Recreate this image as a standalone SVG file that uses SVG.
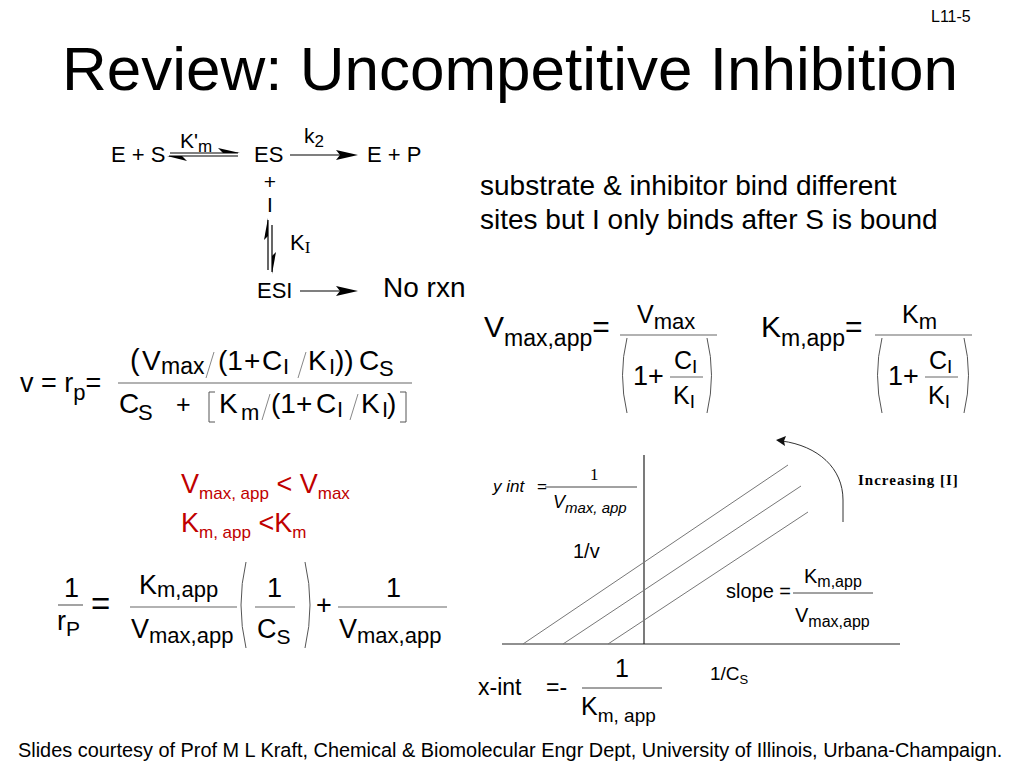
<svg xmlns="http://www.w3.org/2000/svg" width="1024" height="768" viewBox="0 0 1024 768">
<style>
text{font-family:"Liberation Sans",Arial,sans-serif;fill:#000}
.serif{font-family:"Liberation Serif","Times New Roman",serif}
.red{fill:#c00000}
.ln{stroke:#000;stroke-width:1.2;fill:none}
.thin{stroke:#555;stroke-width:1;fill:none}
.gray{stroke:#777;stroke-width:1;fill:none}
.head{fill:#000;stroke:none}
</style>
<rect width="1024" height="768" fill="#fff"/>

<g id="page-number"><text x="931" y="22" font-size="16">L11-5</text></g>
<g id="title"><text x="62" y="90" font-size="62">Review: Uncompetitive Inhibition</text></g>

<g id="reaction-scheme">
  <text x="111" y="162" font-size="22">E + S</text>
  <text x="180" y="148" font-size="21">K'<tspan font-size="17" dy="4">m</tspan></text>
  <text x="254" y="162" font-size="22">ES</text>
  <text x="304" y="143" font-size="21">k<tspan font-size="17" dy="4">2</tspan></text>
  <text x="367" y="162" font-size="22">E + P</text>
  <text x="270" y="189" font-size="21" text-anchor="middle">+</text>
  <text x="270" y="212" font-size="21" text-anchor="middle">I</text>
  <text x="290" y="250" font-size="22">K<tspan class="serif" font-size="17" dy="3">I</tspan></text>
  <text x="257" y="298" font-size="22">ESI</text>
  <text x="383" y="297" font-size="28">No rxn</text>
</g>

<g id="connectors">
  <line class="ln" x1="170" y1="153" x2="238" y2="153"/>
  <polygon class="head" points="240,153 218,148 223,153"/>
  <line class="ln" x1="169" y1="156" x2="238" y2="156"/>
  <polygon class="head" points="167,156 187,161 182,156"/>
  <line class="ln" x1="290" y1="155" x2="352" y2="155"/>
  <polygon class="head" points="358,155 336,150 340,155 336,160"/>
  <line class="ln" x1="268" y1="220" x2="268" y2="270"/>
  <polygon class="head" points="268,218 264,240 268,236"/>
  <line class="ln" x1="272" y1="225" x2="272" y2="272"/>
  <polygon class="head" points="272,274 276,252 272,256"/>
  <line class="ln" x1="300" y1="291" x2="352" y2="291"/>
  <polygon class="head" points="358,291 336,286 340,291 336,296"/>
</g>

<g id="description">
  <text x="480" y="195" font-size="28">substrate &amp; inhibitor bind different</text>
  <text x="480" y="229" font-size="28">sites but I only binds after S is bound</text>
</g>

<g id="rate-equation">
  <text x="20" y="392" font-size="27">v = r<tspan font-size="22" dy="8">p</tspan><tspan dy="-8">=</tspan></text>
  <line x1="118" y1="383" x2="412" y2="383" stroke="#666" stroke-width="1.2"/>
  <text x="130" y="370" font-size="29">(</text>
  <text x="142" y="370" font-size="28">V</text>
  <text x="161" y="374" font-size="23">max</text>
  <line x1="214" y1="352" x2="206" y2="378" stroke="#888" stroke-width="1"/>
  <text x="218" y="370" font-size="28">(1</text>
  <text x="244" y="370" font-size="28">+</text>
  <text x="262" y="370" font-size="28">C</text>
  <text x="283" y="374" font-size="22">I</text>
  <line x1="306" y1="352" x2="298" y2="378" stroke="#888" stroke-width="1"/>
  <text x="308" y="370" font-size="28">K</text>
  <text x="329" y="374" font-size="22">I</text>
  <text x="335" y="370" font-size="28">))</text>
  <text x="359" y="370" font-size="28">C</text>
  <text x="379" y="376" font-size="22">S</text>

  <text x="119" y="413" font-size="28">C</text>
  <text x="138" y="420" font-size="22">S</text>
  <text x="176" y="413" font-size="25">+</text>
  <path class="thin" d="M215,392 H209 V422 H215"/>
  <text x="219" y="413" font-size="28">K</text>
  <text x="241" y="420" font-size="22">m</text>
  <line x1="270" y1="394" x2="262" y2="420" stroke="#888" stroke-width="1"/>
  <text x="271" y="413" font-size="28">(1</text>
  <text x="296" y="413" font-size="28">+</text>
  <text x="316" y="413" font-size="28">C</text>
  <text x="337" y="417" font-size="22">I</text>
  <line x1="358" y1="394" x2="350" y2="420" stroke="#888" stroke-width="1"/>
  <text x="361" y="413" font-size="28">K</text>
  <text x="382" y="417" font-size="22">I</text>
  <text x="387" y="413" font-size="28">)</text>
  <path class="thin" d="M400,392 H406 V422 H400"/>
</g>

<g id="vmax-app-equation">
  <text x="484" y="337" font-size="30">V<tspan font-size="23" dy="9">max,app</tspan><tspan font-size="30" dy="-9">=</tspan></text>
  <line x1="620" y1="335" x2="717" y2="335" stroke="#666" stroke-width="1.2"/>
  <text x="637" y="323" font-size="25">V<tspan font-size="22" dy="6">max</tspan></text>
  <path class="thin" d="M627,338 Q618,375 627,413"/>
  <path class="thin" d="M707,338 Q716,375 707,413"/>
  <text x="633" y="385" font-size="27">1+</text>
  <text x="674" y="369" font-size="25">C<tspan font-size="19" dy="4">I</tspan></text>
  <line x1="670" y1="377" x2="703" y2="377" stroke="#666" stroke-width="1"/>
  <text x="673" y="404" font-size="25">K<tspan font-size="19" dy="4">I</tspan></text>
</g>

<g id="km-app-equation">
  <text x="761" y="337" font-size="30">K<tspan font-size="23" dy="9">m,app</tspan><tspan font-size="30" dy="-9">=</tspan></text>
  <line x1="875" y1="335" x2="972" y2="335" stroke="#666" stroke-width="1.2"/>
  <text x="902" y="323" font-size="25">K<tspan font-size="22" dy="6">m</tspan></text>
  <path class="thin" d="M882,338 Q873,375 882,413"/>
  <path class="thin" d="M964,338 Q973,375 964,413"/>
  <text x="888" y="385" font-size="27">1+</text>
  <text x="929" y="369" font-size="25">C<tspan font-size="19" dy="4">I</tspan></text>
  <line x1="925" y1="377" x2="958" y2="377" stroke="#666" stroke-width="1"/>
  <text x="928" y="404" font-size="25">K<tspan font-size="19" dy="4">I</tspan></text>
</g>

<g id="comparison">
  <text class="red" x="181" y="493" font-size="27">V<tspan font-size="17" dy="6">max, app</tspan><tspan font-size="27" dy="-6"> &lt; V</tspan><tspan font-size="17" dy="6">max</tspan></text>
  <text class="red" x="181" y="532" font-size="27">K<tspan font-size="17" dy="6">m, app</tspan><tspan font-size="27" dy="-6"> &lt;K</tspan><tspan font-size="17" dy="6">m</tspan></text>
</g>

<g id="lineweaver-burk">
  <text x="64" y="597" font-size="27">1</text>
  <line x1="58" y1="605" x2="83" y2="605" stroke="#666" stroke-width="1.2"/>
  <text x="57" y="630" font-size="27">r<tspan font-size="21" dy="6">P</tspan></text>
  <text x="91" y="615" font-size="33">=</text>
  <text x="139" y="594" font-size="27">K<tspan font-size="22" dy="3">m,app</tspan></text>
  <line x1="130" y1="607" x2="237" y2="607" stroke="#666" stroke-width="1.2"/>
  <text x="131" y="638" font-size="27">V<tspan font-size="22" dy="5">max,app</tspan></text>
  <path class="thin" d="M246,562 Q236,605 246,648"/>
  <path class="thin" d="M305,562 Q315,605 305,648"/>
  <text x="267" y="597" font-size="27">1</text>
  <line x1="255" y1="607" x2="295" y2="607" stroke="#666" stroke-width="1.2"/>
  <text x="257" y="638" font-size="27">C<tspan font-size="21" dy="6">S</tspan></text>
  <text x="316" y="614" font-size="27">+</text>
  <text x="386" y="597" font-size="27">1</text>
  <line x1="338" y1="607" x2="447" y2="607" stroke="#666" stroke-width="1.2"/>
  <text x="339" y="638" font-size="27">V<tspan font-size="22" dy="5">max,app</tspan></text>
</g>

<g id="plot">
  <line x1="502" y1="644" x2="900" y2="644" stroke="#222" stroke-width="1.2"/>
  <line x1="644" y1="455" x2="644" y2="644" stroke="#222" stroke-width="1.2"/>
  <line class="gray" x1="523" y1="644" x2="788" y2="465"/>
  <line class="gray" x1="563" y1="644" x2="801" y2="486"/>
  <line class="gray" x1="608" y1="644" x2="808" y2="512"/>
  <path d="M843,522 V500 C843,468 818,446 782,441" stroke="#333" stroke-width="1" fill="none"/>
  <polygon points="776,440 786,436 784,441 785,446" fill="#111"/>
  <text class="serif" x="858" y="485" font-size="15" font-weight="bold" letter-spacing="1" fill="#222">Increasing [I]</text>
  <text x="493" y="492" font-size="17" font-style="italic">y int</text>
  <text x="537" y="492" font-size="17">=</text>
  <text class="serif" x="590" y="480" font-size="17">1</text>
  <line x1="545" y1="487" x2="637" y2="487" stroke="#444" stroke-width="1"/>
  <text x="553" y="508" font-size="18" font-style="italic">V<tspan font-size="15" dy="5">max, app</tspan></text>
  <text x="573" y="558" font-size="20">1/v</text>
  <text x="726" y="598" font-size="20">slope =</text>
  <line x1="793" y1="593" x2="873" y2="593" stroke="#444" stroke-width="1"/>
  <text x="804" y="583" font-size="20">K<tspan font-size="16" dy="4">m,app</tspan></text>
  <text x="795" y="622" font-size="20">V<tspan font-size="16" dy="5">max,app</tspan></text>
</g>

<g id="x-intercept">
  <text x="478" y="695" font-size="23">x-int</text>
  <text x="546" y="695" font-size="23">=-</text>
  <text x="615" y="677" font-size="25">1</text>
  <line x1="582" y1="688" x2="662" y2="688" stroke="#444" stroke-width="1"/>
  <text x="581" y="715" font-size="25">K<tspan font-size="19" dy="7">m, app</tspan></text>
  <text x="710" y="680" font-size="19">1/C<tspan font-size="13" dy="4">S</tspan></text>
</g>

<g id="footer"><text x="18" y="757" font-size="19.9">Slides courtesy of Prof M L Kraft, Chemical &amp; Biomolecular Engr Dept, University of Illinois, Urbana-Champaign.</text></g>
</svg>
